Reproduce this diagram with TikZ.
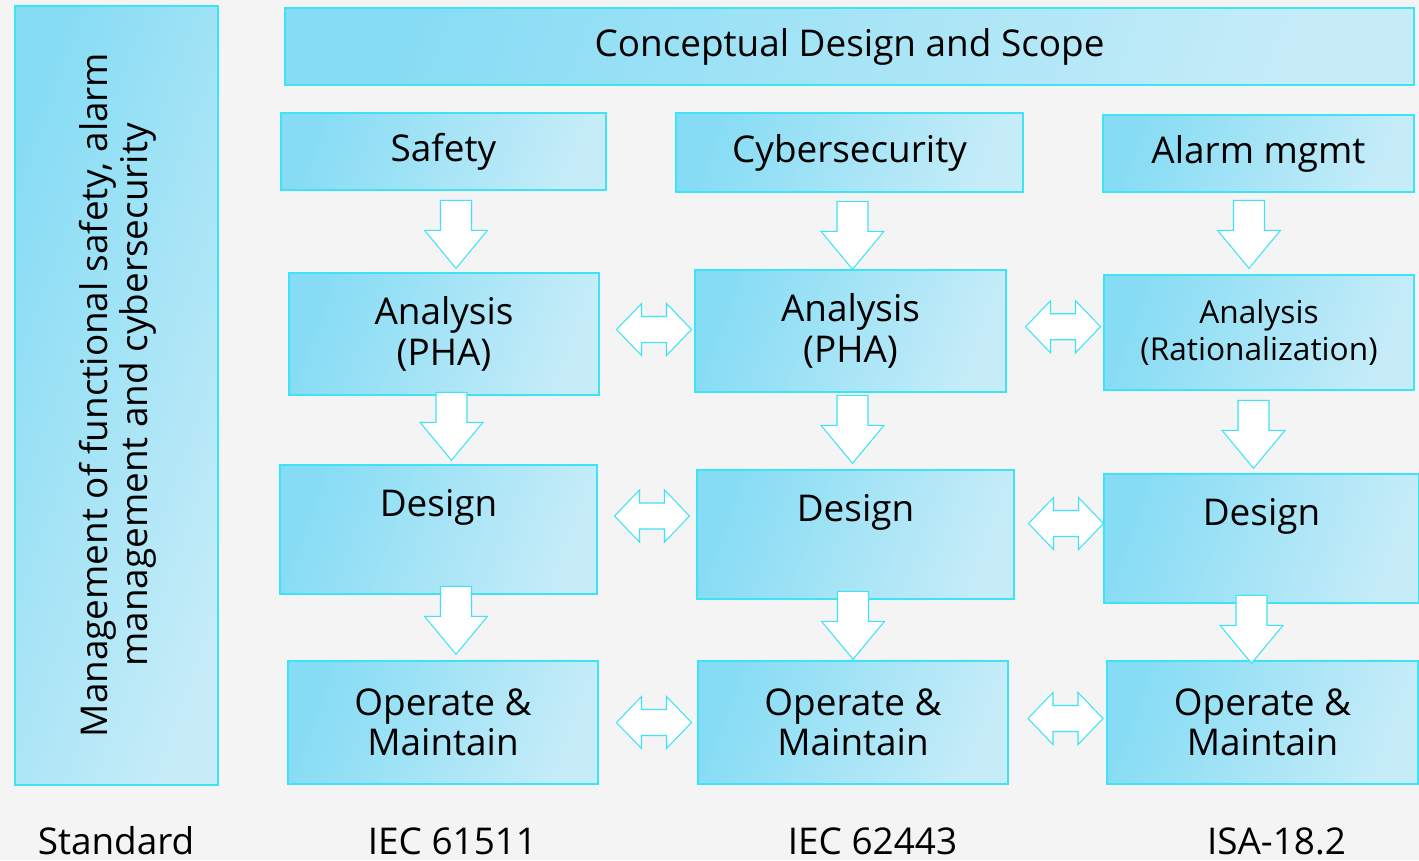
\documentclass[tikz,border=0pt]{standalone}
\usepackage{fontspec}
\setmainfont{Open Sans}
\usetikzlibrary{calc}

\definecolor{skydark}{HTML}{86DCF4}
\definecolor{skylight}{HTML}{C6ECF8}
\definecolor{rimcyan}{HTML}{3EE3F5}
\definecolor{pagegray}{HTML}{F4F4F4}
\newcommand{\pw}{0.02cm}

\tikzset{
  box/.style={draw=rimcyan, line width=0.8pt, left color=skydark, right color=skylight,
    shading angle=70, align=center, inner sep=0pt, font=\fontsize{21}{23}\selectfont},
  stdlabel/.style={anchor=base, inner sep=0pt, font=\fontsize{21}{23}\selectfont},
  arrowline/.style={draw=rimcyan, fill=white, line width=0.6pt, line join=miter},
  pics/downarr/.style={code={
    \path[arrowline] (-15.5,-68) -- (15.5,-68) -- (15.5,-38) -- (31.5,-38) -- (0,0)
      -- (-31.5,-38) -- (-15.5,-38) -- cycle;}},
  pics/sidearr/.style={code={
    \path[arrowline] (-37.5,0) -- (-12.5,-26) -- (-12.5,-13) -- (12.5,-13) -- (12.5,-26)
      -- (37.5,0) -- (12.5,26) -- (12.5,13) -- (-12.5,13) -- (-12.5,26) -- cycle;}},
}

\begin{document}
\begin{tikzpicture}[x=0.02cm, y=-0.02cm]

\fill[pagegray] (0,0) rectangle (1419,860);
\useasboundingbox (0,0) rectangle (1419,860);
\clip (0,0) rectangle (1419,860);

% left band and top band
\node[box, minimum width={203*\pw}, minimum height={779*\pw}] (mgmt) at (116.5,395.5) {};
\node[rotate=90, align=center, font=\fontsize{21}{23}\selectfont] (mgmttext) at (118,395)
  {Management of functional safety, alarm\\management and cybersecurity};
\node[box, minimum width={1129*\pw}, minimum height={77*\pw}] (scope) at (849.5,46.5) {Conceptual Design and Scope};

% column heads
\node[box, minimum width={325*\pw}, minimum height={77*\pw}] (saf) at (443.5,151.5) {Safety};
\node[box, minimum width={347*\pw}, minimum height={79*\pw}] (cyb) at (849.5,152.5) {Cybersecurity};
\node[box, minimum width={311*\pw}, minimum height={77*\pw}] (alm) at (1258.5,153.5) {Alarm mgmt};

% analysis row
\node[box, minimum width={310*\pw}, minimum height={122*\pw}] (ana1) at (444,334) {Analysis\\(PHA)};
\node[box, minimum width={311*\pw}, minimum height={122*\pw}] (ana2) at (850.5,331) {Analysis\\(PHA)};
\node[box, minimum width={310*\pw}, minimum height={115*\pw}, font=\fontsize{18}{21}\selectfont] (ana3) at (1259,332.5) {Analysis\\(Rationalization)};

% design row
\node[box, minimum width={317*\pw}, minimum height={129*\pw}] (des1) at (438.5,529.5) {Design\\\strut};
\node[box, minimum width={317*\pw}, minimum height={129*\pw}] (des2) at (855.5,534.5) {Design\\\strut};
\node[box, minimum width={315*\pw}, minimum height={129*\pw}] (des3) at (1261.5,538.5) {Design\\\strut};

% operate row
\node[box, minimum width={310*\pw}, minimum height={123*\pw}] (op1) at (443,722.5) {Operate \&\\Maintain};
\node[box, minimum width={310*\pw}, minimum height={123*\pw}] (op2) at (853,722.5) {Operate \&\\Maintain};
\node[box, minimum width={311*\pw}, minimum height={123*\pw}] (op3) at (1262.5,722.5) {Operate \&\\Maintain};

% down arrows
\pic at ($(ana1.north)+(12,-4)$) {downarr};
\pic at ($(des1.north)+(13,-4)$) {downarr};
\pic at ($(op1.north)+(13,-6)$) {downarr};
\pic at ($(ana2.north)+(2,0)$) {downarr};
\pic at ($(des2.north)+(-3,-6)$) {downarr};
\pic at ($(op2.north)+(0,-1)$) {downarr};
\pic at ($(ana3.north)+(-10,-6)$) {downarr};
\pic at ($(des3.north)+(-8,-5)$) {downarr};
\pic at ($(op3.north)+(-11,3)$) {downarr};

% side arrows
\pic at ($($(ana1.east)!0.5!(ana2.west)$)+(7,-3)$) {sidearr};
\pic at ($($(ana2.east)!0.5!(ana3.west)$)+(8,-5)$) {sidearr};
\pic at ($($(des1.east)!0.5!(des2.west)$)+(5,-16)$) {sidearr};
\pic at ($($(des2.east)!0.5!(des3.west)$)+(7,-13)$) {sidearr};
\pic at ($($(op1.east)!0.5!(op2.west)$)+(6,0)$) {sidearr};
\pic at ($($(op2.east)!0.5!(op3.west)$)+(8,-4)$) {sidearr};

% standards
\node[stdlabel] (std) at (116,854) {Standard};
\node[stdlabel] (iec1) at (452.5,854) {IEC 61511};
\node[stdlabel] (iec2) at (872.5,854) {IEC 62443};
\node[stdlabel] (isa) at (1276.5,854) {ISA-18.2};

\end{tikzpicture}
\end{document}
